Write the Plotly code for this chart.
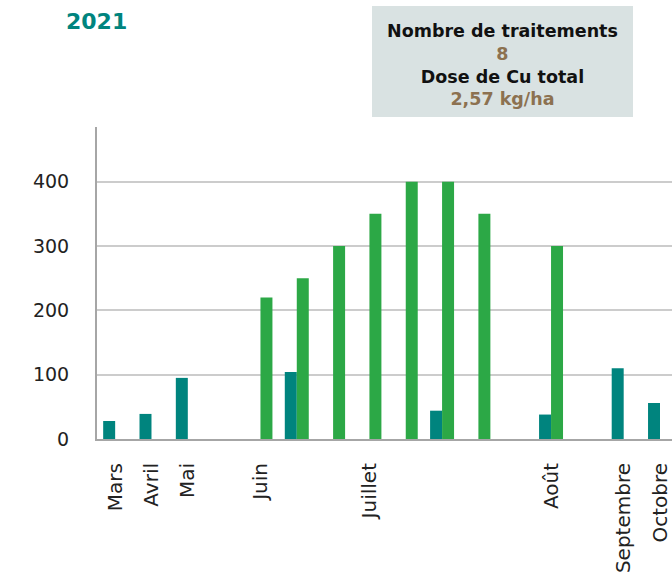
import plotly.graph_objects as go

# 16 time slots along the season (index positions)
slots = list(range(16))
# teal series (left bar of each slot)
teal_values = [28, 39, 95, None, None, 104, None, None, None, 44, None, None, 38, None, 110, 56]
# green series (right bar of each slot)
green_values = [None, None, None, None, 220, 250, 300, 350, 400, 400, 350, None, 300, None, None, None]
# month tick labels and the slot they sit on
month_positions = [0, 1, 2, 4, 7, 12, 14, 15]
month_labels = ["Mars", "Avril", "Mai", "Juin", "Juillet", "Août", "Septembre", "Octobre"]
y_ticks = [0, 100, 200, 300, 400]

title_text = "2021"
box_lines = ["Nombre de traitements", "8", "Dose de Cu total", "2,57 kg/ha"]

TEAL = "#00847e"
GREEN = "#2ca846"
BROWN = "#8c7150"
FONT = "DejaVu Sans"

fig = go.Figure()
fig.add_trace(go.Bar(x=slots, y=teal_values, marker=dict(color=TEAL, line=dict(width=0)), name="teal"))
fig.add_trace(go.Bar(x=slots, y=green_values, marker=dict(color=GREEN, line=dict(width=0)), name="green"))

W, H = 672, 574
L, R, T, B = 97, 0, 127, 135
pw, ph = W - L - R, H - T - B

def px(x):
    return (x - L) / pw

def py(y):
    return (H - B - y) / ph

fig.update_layout(
    width=W, height=H,
    margin=dict(l=L, r=R, t=T, b=B, pad=0, autoexpand=False),
    paper_bgcolor="white", plot_bgcolor="white",
    barmode="group", bargap=0.34, bargroupgap=0,
    showlegend=False,
    font=dict(family=FONT, size=19, color="#222222"),
    xaxis=dict(
        range=[-0.5, 15.33], tickmode="array", tickvals=month_positions, ticktext=month_labels,
        tickangle=-90, showgrid=False, zeroline=False, showline=True, linecolor="#a6a6a6", linewidth=2,
        ticks="", ticklabelstandoff=14, automargin=False,
        tickfont=dict(family=FONT, size=20, color="#222222"),
    ),
    yaxis=dict(
        range=[0, 485], tickmode="array", tickvals=y_ticks, showgrid=True, gridcolor="#cccccc", gridwidth=2,
        zeroline=False, showline=True, linecolor="#a6a6a6", linewidth=2, ticks="", automargin=False,
        ticklabelstandoff=22, tickfont=dict(family=FONT, size=19, color="#222222"),
    ),
    shapes=[dict(type="rect", xref="paper", yref="paper", x0=px(372), x1=px(633), y0=py(117), y1=py(6),
                 fillcolor="#d9e2e2", line=dict(width=0), layer="below")],
    annotations=[
        dict(text="<b>" + title_text + "</b>", xref="paper", yref="paper", x=px(64), y=py(21),
             xanchor="left", yanchor="middle", showarrow=False,
             font=dict(family=FONT, size=22, color=TEAL)),
        dict(text=(f"<b>{box_lines[0]}</b><br><b><span style='color:{BROWN}'>{box_lines[1]}</span></b><br>"
                   f"<b>{box_lines[2]}</b><br><b><span style='color:{BROWN}'>{box_lines[3]}</span></b>"),
             xref="paper", yref="paper", x=px(502.5), y=py(64.5), xanchor="center", yanchor="middle",
             showarrow=False, align="center", font=dict(family=FONT, size=17.5, color="#111111")),
    ],
)

fig.write_html("out.html", config={"displayModeBar": False},
               post_script="document.body.style.margin='0px';document.body.style.overflow='hidden';")
